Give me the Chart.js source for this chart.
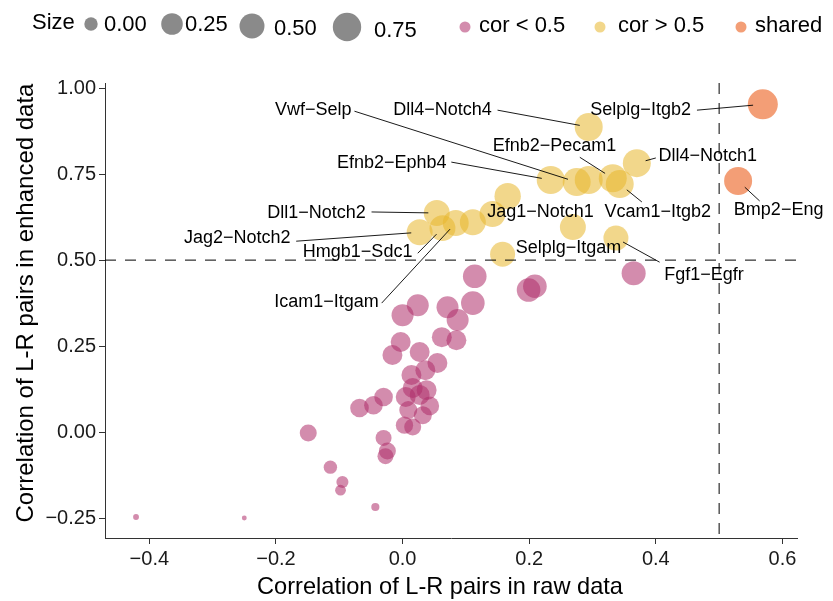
<!DOCTYPE html>
<html>
<head>
<meta charset="utf-8">
<script src="https://cdn.jsdelivr.net/npm/chart.js@4.4.1/dist/chart.umd.min.js"></script>
<style>
  html, body { margin: 0; padding: 0; background: #fff; }
  #wrap { width: 833px; height: 601px; }
</style>
</head>
<body>
<div id="wrap"><canvas id="myChart" width="833" height="601"></canvas></div>
<script>
// L-R pair correlations, raw vs enhanced data
var lowX = [0.114, 0.111, 0.199, 0.209, 0.365, 0.024, 0.000, 0.071, 0.087, 0.062,
            0.085, -0.003, -0.016, 0.027, 0.055, 0.036, 0.014, 0.016, 0.038, 0.005,
            0.027, -0.030, -0.046, -0.068, 0.043, 0.009, 0.032, 0.003, 0.016, -0.030,
            -0.024, -0.027, -0.149, -0.114, -0.095, -0.098, -0.043, -0.421, -0.250];
var lowY = [0.453, 0.375, 0.413, 0.424, 0.462, 0.369, 0.340, 0.363, 0.326, 0.276,
            0.267, 0.262, 0.224, 0.233, 0.201, 0.180, 0.166, 0.128, 0.122, 0.102,
            0.108, 0.102, 0.078, 0.070, 0.076, 0.064, 0.049, 0.020, 0.015, -0.017,
            -0.055, -0.070, -0.003, -0.102, -0.145, -0.169, -0.218, -0.247, -0.250];
var lowSize = [0.40, 0.40, 0.40, 0.40, 0.43, 0.28, 0.28, 0.28, 0.28, 0.20,
               0.20, 0.20, 0.20, 0.20, 0.20, 0.20, 0.20, 0.20, 0.20, 0.20,
               0.20, 0.16, 0.16, 0.16, 0.16, 0.14, 0.14, 0.12, 0.11, 0.08,
               0.11, 0.08, 0.11, 0.00, -0.04, -0.08, -0.16, -0.23, -0.26];

var highX = [0.294, 0.370, 0.234, 0.275, 0.294, 0.332, 0.343, 0.166, 0.142, 0.111,
             0.269, 0.337, 0.158, 0.054, 0.027, 0.063, 0.084];
var highY = [0.887, 0.782, 0.733, 0.727, 0.733, 0.738, 0.721, 0.686, 0.634, 0.610,
             0.596, 0.564, 0.517, 0.637, 0.581, 0.593, 0.608];
var highSize = [0.72, 0.72, 0.72, 0.72, 0.72, 0.72, 0.72, 0.60, 0.57, 0.57,
                0.57, 0.50, 0.50, 0.57, 0.57, 0.57, 0.57];

var sharedX = [0.569, 0.530];
var sharedY = [0.953, 0.730];
var sharedSize = [0.87, 0.72];

var cutoff = 0.5;
var xTicks = [-0.4, -0.2, 0, 0.2, 0.4, 0.6];
var xTickLabels = ['\u22120.4', '\u22120.2', '0.0', '0.2', '0.4', '0.6'];
var yTicks = [-0.25, 0, 0.25, 0.5, 0.75, 1.0];
var yTickLabels = ['\u22120.25', '0.00', '0.25', '0.50', '0.75', '1.00'];
var sizeBreaks = [0, 0.25, 0.5, 0.75];
var sizeBreakLabels = ['0.00', '0.25', '0.50', '0.75'];
var groupNames = ['cor < 0.5', 'cor > 0.5', 'shared'];
var xTitle = 'Correlation of L-R pairs in raw data';
var yTitle = 'Correlation of L-R pairs in enhanced data';

// labelled pairs: which point, where the text sits and where its leader starts (data units)
var pairLabels = [
  { text: 'Vwf\u2212Selp',     set: 1, i: 3,  lx: -0.141, ly: 0.936, sx: -0.076, sy: 0.933 },
  { text: 'Dll4\u2212Notch4',  set: 1, i: 0,  lx: 0.063,  ly: 0.936, sx: 0.150,  sy: 0.936 },
  { text: 'Selplg\u2212Itgb2', set: 2, i: 0,  lx: 0.376,  ly: 0.936, sx: 0.465,  sy: 0.936 },
  { text: 'Efnb2\u2212Pecam1', set: 1, i: 5,  lx: 0.240,  ly: 0.831, sx: 0.280,  sy: 0.799 },
  { text: 'Dll4\u2212Notch1',  set: 1, i: 1,  lx: 0.482,  ly: 0.802, sx: 0.400,  sy: 0.797 },
  { text: 'Efnb2\u2212Ephb4',  set: 1, i: 2,  lx: -0.017, ly: 0.782, sx: 0.077,  sy: 0.785 },
  { text: 'Dll1\u2212Notch2',  set: 1, i: 13, lx: -0.136, ly: 0.637, sx: -0.049, sy: 0.640 },
  { text: 'Jag2\u2212Notch2',  set: 1, i: 14, lx: -0.261, ly: 0.564, sx: -0.168, sy: 0.555 },
  { text: 'Hmgb1\u2212Sdc1',   set: 1, i: 15, lx: -0.071, ly: 0.523, sx: 0.024,  sy: 0.520 },
  { text: 'Icam1\u2212Itgam',  set: 1, i: 16, lx: -0.120, ly: 0.378, sx: -0.033, sy: 0.375 },
  { text: 'Jag1\u2212Notch1',  set: 1, i: 8,  lx: 0.218,  ly: 0.640, sx: null,   sy: null },
  { text: 'Vcam1\u2212Itgb2',  set: 1, i: 6,  lx: 0.403,  ly: 0.640, sx: 0.378,  sy: 0.669 },
  { text: 'Bmp2\u2212Eng',     set: 2, i: 1,  lx: 0.594,  ly: 0.645, sx: 0.564,  sy: 0.672 },
  { text: 'Selplg\u2212Itgam', set: 1, i: 12, lx: 0.262,  ly: 0.535, sx: null,   sy: null },
  { text: 'Fgf1\u2212Egfr',    set: 1, i: 11, lx: 0.476,  ly: 0.456, sx: 0.406,  sy: 0.494 }
];

var FONT = '"Liberation Sans", Arial, Helvetica, sans-serif';
var fills = ['rgba(175,45,105,0.55)', 'rgba(232,182,44,0.55)', 'rgba(235,93,27,0.6)'];
var keyRadius = [6.7, 10.8, 12.5, 14.2];

// size -> radius, piecewise linear through the legend keys
function radiusFor(s) {
  var n = sizeBreaks.length;
  if (s <= sizeBreaks[0]) {
    var k0 = (keyRadius[1] - keyRadius[0]) / (sizeBreaks[1] - sizeBreaks[0]);
    return Math.max(1.5, keyRadius[0] + k0 * (s - sizeBreaks[0]));
  }
  for (var j = 1; j < n; j++) {
    if (s <= sizeBreaks[j]) {
      var t = (s - sizeBreaks[j - 1]) / (sizeBreaks[j] - sizeBreaks[j - 1]);
      return keyRadius[j - 1] + t * (keyRadius[j] - keyRadius[j - 1]);
    }
  }
  var k1 = (keyRadius[n - 1] - keyRadius[n - 2]) / (sizeBreaks[n - 1] - sizeBreaks[n - 2]);
  return keyRadius[n - 1] + k1 * (s - sizeBreaks[n - 1]);
}

function pts(xs, ys, ss) {
  return xs.map(function (x, i) { return { x: x, y: ys[i], s: ss[i] }; });
}

var overlay = {
  id: 'overlay',
  afterDatasetsDraw: function (chart) {
    var c = chart.ctx, a = chart.chartArea;
    var xs = chart.scales.x, ys = chart.scales.y;
    c.save();
    // cutoff lines
    c.strokeStyle = '#000';
    c.lineWidth = 1;
    c.setLineDash([11, 9]);
    var yc = ys.getPixelForValue(cutoff);
    var xc = xs.getPixelForValue(cutoff);
    c.beginPath();
    c.moveTo(a.left, yc); c.lineTo(a.right, yc);
    c.moveTo(xc, a.top); c.lineTo(xc, a.bottom);
    c.stroke();
    c.setLineDash([]);

    // repel-style labels
    c.font = '18px ' + FONT;
    c.fillStyle = '#000';
    c.textAlign = 'center';
    c.textBaseline = 'middle';
    c.lineWidth = 0.9;
    pairLabels.forEach(function (l) {
      var el = chart.getDatasetMeta(l.set).data[l.i];
      if (l.sx !== null) {
        var x0 = xs.getPixelForValue(l.sx), y0 = ys.getPixelForValue(l.sy);
        var dx = x0 - el.x, dy = y0 - el.y;
        var d = Math.sqrt(dx * dx + dy * dy);
        var r = el.options.radius * 0.65;
        c.beginPath();
        c.moveTo(x0, y0);
        c.lineTo(el.x + dx / d * r, el.y + dy / d * r);
        c.stroke();
      }
      c.fillText(l.text, xs.getPixelForValue(l.lx), ys.getPixelForValue(l.ly));
    });
    c.restore();
  },
  afterDraw: function (chart) {
    var c = chart.ctx;
    c.save();
    c.fillStyle = '#000';
    c.textBaseline = 'middle';
    c.textAlign = 'center';
    // axis titles
    c.font = '23.6px ' + FONT;
    c.fillText(xTitle, 440, 587);
    c.save();
    c.translate(26, 303);
    c.rotate(-Math.PI / 2);
    c.font = '24px ' + FONT;
    c.fillText(yTitle, 0, 0);
    c.restore();

    // legend strip at the top
    c.font = '22px ' + FONT;
    c.textAlign = 'left';
    c.fillText('Size', 32, 23);
    var keyX = [91, 172, 252, 347], keyY = [24, 24, 26, 27];
    var labX = [104, 185, 274, 374], labY = [25, 25, 29, 31];
    sizeBreaks.forEach(function (s, j) {
      c.fillStyle = '#8a8a8a';
      c.beginPath();
      c.arc(keyX[j], keyY[j], radiusFor(s), 0, Math.PI * 2);
      c.fill();
      c.fillStyle = '#000';
      c.fillText(sizeBreakLabels[j], labX[j], labY[j]);
    });
    var dotX = [465, 600, 741], txtX = [479, 618, 755];
    groupNames.forEach(function (g, j) {
      c.fillStyle = fills[j];
      c.beginPath();
      c.arc(dotX[j], 27, 5.5, 0, Math.PI * 2);
      c.fill();
      c.fillStyle = '#000';
      c.fillText(g, txtX[j], 26);
    });
    c.restore();
  }
};

var ctx = document.getElementById('myChart').getContext('2d');
var myChart = new Chart(ctx, {
    type: 'scatter',
    data: {
        datasets: [{
            label: groupNames[0],
            data: pts(lowX, lowY, lowSize),
            backgroundColor: fills[0],
            borderWidth: 0,
            pointRadius: function (c) { return radiusFor(c.raw.s); }
        }, {
            label: groupNames[1],
            data: pts(highX, highY, highSize),
            backgroundColor: fills[1],
            borderWidth: 0,
            pointRadius: function (c) { return radiusFor(c.raw.s); }
        }, {
            label: groupNames[2],
            data: pts(sharedX, sharedY, sharedSize),
            backgroundColor: fills[2],
            borderWidth: 0,
            pointRadius: function (c) { return radiusFor(c.raw.s); }
        }]
    },
    options: {
        responsive: false,
        animation: false,
        events: [],
        devicePixelRatio: 1,
        layout: { padding: { top: 83, right: 36, left: 0, bottom: 0 } },
        plugins: { legend: { display: false }, tooltip: { enabled: false } },
        scales: {
            x: {
                type: 'linear',
                min: -0.47,
                max: 0.623,
                afterBuildTicks: function (s) { s.ticks = xTicks.map(function (v) { return { value: v }; }); },
                afterFit: function (s) { s.height = 63; },
                ticks: {
                    callback: function (v, i) { return xTickLabels[i]; },
                    font: { family: FONT, size: 20 },
                    color: '#1a1a1a',
                    padding: 3,
                    maxRotation: 0,
                    autoSkip: false
                },
                grid: { display: true, drawOnChartArea: false, drawTicks: true, tickLength: 6, tickColor: '#333', color: '#333' },
                border: { display: true, color: '#333', width: 1 },
                title: { display: false }
            },
            y: {
                type: 'linear',
                min: -0.308,
                max: 1.015,
                afterBuildTicks: function (s) { s.ticks = yTicks.map(function (v) { return { value: v }; }); },
                afterFit: function (s) { s.width = 105; },
                ticks: {
                    callback: function (v, i) { return yTickLabels[i]; },
                    font: { family: FONT, size: 20 },
                    color: '#1a1a1a',
                    padding: 3,
                    autoSkip: false
                },
                grid: { display: true, drawOnChartArea: false, drawTicks: true, tickLength: 6, tickColor: '#333', color: '#333' },
                border: { display: true, color: '#333', width: 1 },
                title: { display: false }
            }
        }
    },
    plugins: [overlay]
});
</script>
</body>
</html>
